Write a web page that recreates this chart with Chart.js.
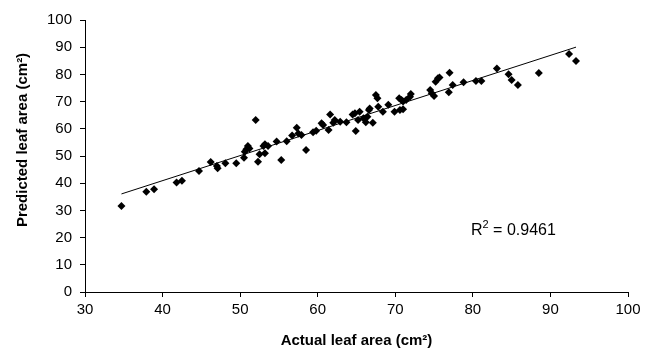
<!DOCTYPE html>
<html>
<head>
<meta charset="utf-8">
<script src="https://cdn.jsdelivr.net/npm/chart.js@4.4.1/dist/chart.umd.min.js"></script>
<style>
  html, body { margin: 0; padding: 0; background: #fff; }
  #wrap { width: 645px; height: 360px; }
</style>
</head>
<body>
<div id="wrap"><canvas id="leafChart" width="645" height="360"></canvas></div>
<script>
// values
const actualArea = [
  34.7, 37.9, 38.9, 41.8, 42.5, 44.7, 46.2, 47.0, 47.1, 48.1,
  49.5, 50.5, 50.6, 50.8, 51.0, 51.2, 52.0, 52.3, 52.5, 53.0,
  53.2, 53.6, 53.2, 54.7, 55.3, 56.0, 56.7, 57.3, 57.5, 57.9,
  58.5, 59.4, 59.8, 60.5, 60.7, 61.4, 61.6, 62.0, 62.2, 62.9,
  63.7, 64.5, 64.8, 64.9, 65.4, 65.2, 65.9, 66.2, 66.4, 66.6,
  67.1, 66.7, 67.5, 67.7, 67.8, 68.4, 69.1, 69.9, 70.5, 70.8,
  71.0, 70.6, 71.0, 71.4, 71.9, 72.0, 74.5, 74.7, 75.0, 75.2,
  75.5, 75.7, 77.0, 76.9, 77.4, 78.8, 80.4, 81.1, 83.1, 84.6,
  85.0, 85.8, 88.5, 92.4, 93.3
];
const predictedArea = [
  31.6, 36.9, 37.8, 40.3, 40.9, 44.5, 47.8, 46.3, 45.5, 47.3,
  47.3, 49.4, 51.6, 52.5, 53.7, 52.8, 63.2, 47.9, 50.6, 53.7,
  54.3, 53.7, 51.0, 55.3, 48.5, 55.4, 57.5, 60.4, 58.3, 57.7,
  52.2, 58.7, 59.3, 62.0, 61.4, 59.6, 65.3, 62.2, 63.2, 62.6,
  62.4, 65.3, 65.7, 59.2, 66.3, 63.2, 63.9, 62.4, 64.4, 66.9,
  62.2, 67.5, 72.4, 71.2, 68.1, 66.3, 68.8, 66.3, 71.2, 70.6,
  70.0, 66.9, 67.2, 70.6, 71.8, 72.8, 74.3, 73.1, 72.1, 77.3,
  78.6, 78.9, 80.6, 73.4, 76.1, 77.1, 77.6, 77.6, 82.2, 80.1,
  77.9, 76.1, 80.5, 87.5, 84.9
];
const xRange = [30, 100];
const yRange = [0, 100];
const tickStep = 10;
const rSquared = '0.9461';

const xTitle = 'Actual leaf area (cm\u00B2)';
const yTitle = 'Predicted leaf area (cm\u00B2)';

// least squares fit for the trend line
function linearFit(xs, ys) {
  const n = xs.length;
  const mx = xs.reduce((a, b) => a + b, 0) / n;
  const my = ys.reduce((a, b) => a + b, 0) / n;
  let sxy = 0, sxx = 0;
  for (let i = 0; i < n; i++) {
    sxy += (xs[i] - mx) * (ys[i] - my);
    sxx += (xs[i] - mx) * (xs[i] - mx);
  }
  const slope = sxy / sxx;
  return { slope: slope, intercept: my - slope * mx };
}

const fit = linearFit(actualArea, predictedArea);
const xMin = Math.min(...actualArea);
const xMax = Math.max(...actualArea);
const trendPoints = [
  { x: xMin, y: fit.intercept + fit.slope * xMin },
  { x: xMax, y: fit.intercept + fit.slope * xMax }
];
const scatterPoints = actualArea.map((x, i) => ({ x: x, y: predictedArea[i] }));

const FONT = 'Arial, "Liberation Sans", sans-serif';

const textPlugin = {
  id: 'textPlugin',
  afterDraw(chart) {
    const ctx = chart.ctx;
    const area = chart.chartArea;
    ctx.save();
    ctx.fillStyle = '#000';
    ctx.font = 'bold 15px ' + FONT;
    ctx.textAlign = 'center';
    ctx.textBaseline = 'middle';
    ctx.fillText(xTitle, (area.left + area.right) / 2, 341);

    ctx.save();
    ctx.translate(23, 140);
    ctx.rotate(-Math.PI / 2);
    ctx.fillText(yTitle, 0, 0);
    ctx.restore();

    // R² label with a raised 2
    ctx.textAlign = 'left';
    ctx.textBaseline = 'alphabetic';
    ctx.font = '16px ' + FONT;
    let x = 471, y = 235;
    ctx.fillText('R', x, y);
    x += ctx.measureText('R').width;
    ctx.font = '11px ' + FONT;
    ctx.fillText('2', x, y - 7);
    x += ctx.measureText('2').width;
    ctx.font = '16px ' + FONT;
    ctx.fillText(' = ' + rSquared, x, y);
    ctx.restore();
  }
};

new Chart(document.getElementById('leafChart'), {
  type: 'scatter',
  data: {
    datasets: [
      {
        label: 'Leaf area',
        data: scatterPoints,
        pointStyle: 'rectRot',
        pointRadius: 4,
        backgroundColor: '#000',
        borderColor: '#000',
        borderWidth: 0,
        showLine: false
      },
      {
        label: 'Linear trend',
        data: trendPoints,
        showLine: true,
        borderColor: '#000',
        borderWidth: 1,
        pointRadius: 0,
        fill: false
      }
    ]
  },
  options: {
    responsive: false,
    devicePixelRatio: 1,
    animation: false,
    layout: { padding: { top: 20, right: 17, left: 0, bottom: 0 } },
    plugins: {
      legend: { display: false },
      tooltip: { enabled: false }
    },
    scales: {
      x: {
        type: 'linear',
        min: xRange[0],
        max: xRange[1],
        afterFit: (scale) => { scale.height = 68; },
        ticks: { stepSize: tickStep, color: '#000', font: { family: FONT, size: 15 }, padding: 4, maxRotation: 0 },
        grid: { display: true, drawOnChartArea: false, drawTicks: true, tickLength: 5, color: '#000' },
        border: { display: true, color: '#000', width: 1 }
      },
      y: {
        type: 'linear',
        min: yRange[0],
        max: yRange[1],
        afterFit: (scale) => { scale.width = 85; },
        ticks: { stepSize: tickStep, color: '#000', font: { family: FONT, size: 15 }, padding: 8 },
        grid: { display: true, drawOnChartArea: false, drawTicks: true, tickLength: 5, color: '#000' },
        border: { display: true, color: '#000', width: 1 }
      }
    }
  },
  plugins: [textPlugin]
});
</script>
</body>
</html>
